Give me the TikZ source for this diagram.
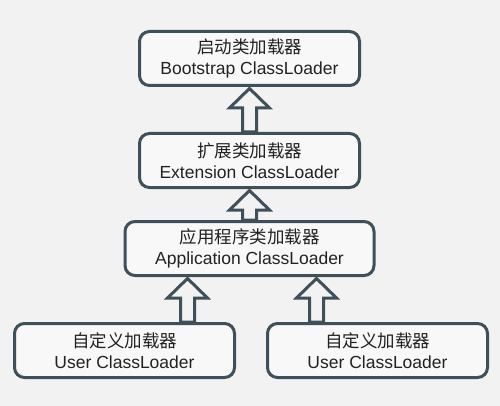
\documentclass[tikz,border=0pt]{standalone}
\usepackage{fontspec}
\setmainfont{Liberation Sans}
\newfontfamily\cjk{Noto Sans CJK SC}
\usetikzlibrary{positioning, calc}

\definecolor{bgcol}{HTML}{F2F2F2}
\definecolor{boxfill}{HTML}{F8F8F8}
\definecolor{edgecol}{HTML}{3E5059}
\definecolor{txtcol}{HTML}{222222}

\begin{document}
\begin{tikzpicture}[x=1pt, y=1pt, node distance=42pt]
  % Styles
  \tikzstyle{loader}=[draw=edgecol, fill=boxfill, line width=3pt, rounded corners=10pt, minimum width=220pt, minimum height=54pt, align=center, text=txtcol, font=\fontsize{17.5}{21}\selectfont]
  \tikzset{upblock/.style={draw=edgecol, fill=bgcol, line width=3pt, line join=miter,
    to path={let \p1=(\tikztostart), \p2=(\tikztotarget) in
      (\x1-7,\y1) -- (\x1-7,\y2-21) -- (\x1-20,\y2-21) -- (\x1,\y2-1.5)
      -- (\x1+20,\y2-21) -- (\x1+7,\y2-21) -- (\x1+7,\y1) -- cycle}}}

  % background
  \fill[bgcol] (0,0) rectangle (500,-406);
  \useasboundingbox (0,0) rectangle (500,-406);

  % --- Nodes ---
  \node[loader] (Bootstrap) at (249.5,-58.5) {{\cjk 启动类加载器}\\Bootstrap ClassLoader};
  \node[loader] (Extension) [below=45pt of Bootstrap] {{\cjk 扩展类加载器}\\Extension ClassLoader};
  \node[loader, minimum width=249pt] (Application) [below=31pt of Extension] {{\cjk 应用程序类加载器}\\Application ClassLoader};
  \node[loader] (UserA) [below=45pt of Application, xshift=-125pt] {{\cjk 自定义加载器}\\User ClassLoader};
  \node[loader] (UserB) [below=45pt of Application, xshift=128pt] {{\cjk 自定义加载器}\\User ClassLoader};

  % --- Parent links ---
  \path[upblock]
    (Extension.north) to (Bootstrap.south)
    (Application.north) to (Extension.south);
  \path[upblock]
    ([xshift=63pt]UserA.north) to (Application.south)
    ([xshift=-61pt]UserB.north) to (Application.south);
\end{tikzpicture}
\end{document}
